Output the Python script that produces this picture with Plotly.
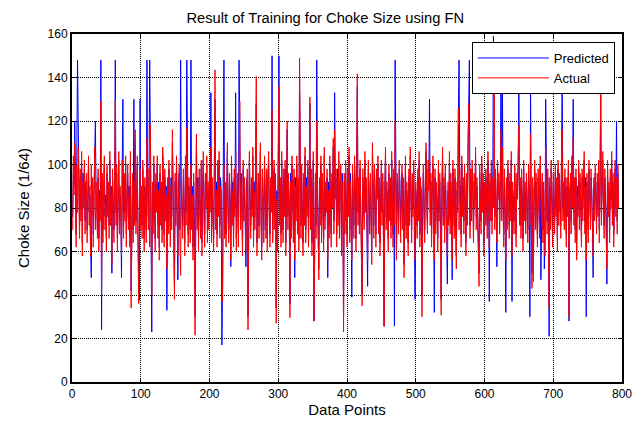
import plotly.graph_objects as go

# Actual choke size (red) (index 1..795)
actual = [
70,104,86,110,96,62,100,78,108,84,66,98,74,106,58,92,80,102,68,88,
96,64,84,104,72,90,58,100,76,94,62,86,108,70,92,80,66,98,60,84,
74,129,39,96,64,88,104,70,82,60,100,76,92,66,106,72,86,54,98,78,
64,94,130,72,100,60,84,106,68,90,76,58,102,80,66,96,74,104,62,88,
100,70,86,62,106,34,78,96,64,92,72,116,68,88,104,60,36,82,98,70,
90,66,102,76,60,94,80,64,112,86,70,98,62,118,76,40,92,68,104,74,
60,96,78,104,66,88,56,100,72,92,64,108,80,62,98,74,86,52,94,68,
102,76,62,90,70,116,84,60,38,96,72,104,66,58,88,100,64,49,92,74,
66,98,80,58,104,72,117,88,62,94,76,64,100,70,86,56,96,68,21.5,84,
114,70,90,60,98,78,66,102,58,86,106,74,62,96,80,104,64,92,70,100,
78,108,64,94,72,60,98,143.5,70,88,62,102,76,106,66,90,84,58,37,80,
100,66,92,62,86,110,74,64,96,80,56,104,72,88,62,98,76,106,60,84,
96,62,86,129,70,92,78,58,102,74,94,64,60,88,98,24,72,106,82,66,
94,76,108,62,88,70,100,140.5,58,84,96,66,90,110,72,56,98,80,64,104,
82,66,98,60,92,106,74,62,94,78,125,64,86,102,70,96,27,84,60,104,
136,72,94,62,106,80,64,98,76,102,58,88,120,70,96,78,29.6,92,66,104,
80,64,98,56,90,74,104,68,94,60,149,82,66,100,78,58,96,72,108,64,
90,76,102,62,86,131,70,98,58,84,106,28,74,96,66,120,86,62,47,94,
72,104,64,96,80,60,108,70,92,78,98,56,88,66,104,74,62,96,80,112,
68,116,84,98,62,94,72,106,66,88,100,58,92,76,23,96,68,102,80,62,
98,76,108,64,92,72,56,100,80,66,104,86,60,96,141.7,72,94,68,102,78,
62,35,98,82,70,106,78,94,64,56,102,80,68,96,74,54,110,88,66,100,
78,62,98,84,104,68,94,58,82,102,72,96,64,25.6,86,108,70,92,78,60,
100,74,94,66,106,80,62,98,72,120,84,56,96,78,68,102,88,64,82,100,
70,94,48,80,104,66,92,78,58,98,72,108,84,64,96,76,102,68,56,92,
80,66,98,74,106,62,94,84,30,72,100,78,64,96,110,80,68,102,88,108,
72,96,62,86,104,76,56,98,68,92,80,60,102,74,96,66,30.7,86,108,72,
94,64,100,80,60,58,92,72,106,68,96,78,56,102,84,66,98,74,52,92,
78,126,70,98,84,62,104,76,94,68,100,80,58,96,72,110,128,84,66,98,
74,102,88,64,96,80,108,70,94,76,62,44,100,84,68,104,78,96,58,92,
72,98,80,66,106,84,62,96,74,102,68,94,80,139,70,98,76,64,102,84,
96,68,88,116,74,108,80,62,98,76,56,94,70,102,84,66,96,74,106,58,
92,80,68,100,76,62,96,84,104,118,72,94,66,98,80,60,102,74,92,68,
96,78,64,100,84,72,114,68,43,94,46,80,102,70,96,76,62,98,84,66,
104,78,72,96,64,92,76,58,108,84,68,98,74,34,94,70,102,80,62,96,
82,68,100,76,94,60,102,72,96,80,66,106,116,74,92,70,98,78,62,94,
76,102,30,84,96,68,104,80,112,72,94,64,98,56,86,76,102,70,96,80,
62,98,74,92,106,68,90,56,96,78,64,102,80,70,98,84,66,58,94,74,
100,80,68,96,76,102,64,88,136,72,94,106,78,66,98,84,70,52,102,76,
92,64,98,80,106,72,96,62,86,102,76,94,68,100,80,
]

# Predicted choke size (blue) (index 1..795)
predicted = [
76,100,90,120,92,68,104,148,120,88,72,94,80,100,64,96,84,98,74,92,
92,70,88,100,78,86,64,48,82,90,68,90,104,120,88,84,70,94,66,88,
80,148,24,92,70,92,100,76,86,66,96,80,88,72,102,78,90,50,94,82,
70,90,148,78,96,66,88,102,74,86,80,48,98,130,72,92,78,100,68,92,
96,76,90,68,102,42,84,92,70,130,78,110,74,92,100,66,46,37.5,130,76,
86,72,98,80,66,90,84,70,148,90,76,94,148,112,80,23,88,74,100,78,
66,92,82,100,72,92,62,96,78,88,70,104,84,68,94,80,90,33,90,74,
98,80,68,94,76,110,88,66,46,92,78,100,72,47,92,96,70,148,88,80,
72,94,84,64,100,78,148,92,68,90,80,70,148,76,90,62,92,74,30,88,
110,76,94,66,94,82,72,98,64,90,102,80,68,92,84,100,70,88,76,96,
84,133,70,90,78,66,94,130,76,92,68,98,80,102,72,94,88,17,44,86,
148,72,88,68,90,106,80,70,92,84,53,100,78,92,68,94,80,133,66,88,
92,68,148,120,76,96,82,64,98,80,90,70,53,92,94,30,78,102,86,72,
90,80,104,68,92,76,96,128,64,88,92,72,94,106,78,62,94,84,70,100,
86,72,94,66,96,102,80,68,90,82,150,70,90,98,76,92,34,88,66,100,
150,78,90,68,102,84,70,94,80,98,64,92,116,76,92,82,36,96,72,100,
84,70,94,48,94,80,100,74,90,66,140,86,72,96,82,64,92,78,104,70,
94,80,98,68,90,128,76,94,64,88,102,28,80,92,72,148,90,68,52,90,
78,100,70,92,84,66,104,76,88,82,94,48,92,72,100,80,68,92,84,108,
74,133,88,94,68,98,78,102,72,92,96,64,96,80,30,92,74,98,84,68,
94,80,104,70,96,78,39,96,84,72,100,90,66,92,136,78,90,74,98,82,
68,40,94,86,76,102,82,90,70,44,98,84,74,92,80,60,106,92,72,96,
82,68,94,88,100,74,90,64,86,98,78,92,70,25.6,90,104,76,88,82,66,
96,80,90,72,102,84,68,94,25.7,148,88,62,92,82,74,98,92,70,86,96,
76,90,54,84,100,72,88,82,64,94,78,104,88,70,92,80,98,74,38,88,
84,72,94,78,102,68,90,88,40,78,96,82,70,92,106,84,74,98,92,130,
78,92,68,90,100,80,32,94,74,88,84,66,98,78,92,72,38,90,104,76,
90,70,96,84,66,45,88,76,102,74,92,82,47,98,88,72,94,78,58,88,
82,122,148,94,88,68,100,80,90,74,96,84,64,92,78,106,122,148,72,94,
80,98,92,70,92,84,104,76,90,80,68,50,96,88,74,100,82,92,64,88,
78,94,84,72,102,88,37,92,80,98,74,90,159,134,76,94,80,53,98,88,
92,74,92,142,80,142,84,68,94,80,32,90,76,98,88,72,92,78,102,37,
88,84,74,96,80,68,92,88,100,137,78,90,72,94,84,66,98,78,88,74,
92,82,70,96,88,30,137,74,50,90,52,84,98,76,92,80,68,94,88,72,
100,47,78,92,70,88,52,64,130,88,74,94,80,21,90,76,98,84,68,92,
86,74,96,80,90,66,98,78,92,84,72,102,139,80,88,76,94,82,68,90,
82,98,28,88,92,74,100,84,130,78,90,70,94,58,90,80,98,76,92,84,
68,94,80,88,102,74,94,30,92,82,70,98,84,76,94,88,72,48,90,80,
96,84,74,92,82,98,70,92,132,78,90,102,82,72,94,88,76,45,98,80,
88,70,94,84,102,78,92,68,90,98,80,120,74,96,84,
]

x_idx = list(range(1, len(actual) + 1))
x_ticks = [0, 100, 200, 300, 400, 500, 600, 700, 800]
y_ticks = [0, 20, 40, 60, 80, 100, 120, 140, 160]

fig = go.Figure()
fig.add_trace(go.Scatter(x=list(range(1, len(predicted) + 1)), y=predicted, mode="lines",
                         name="Predicted", line=dict(color="#0000FF", width=1)))
fig.add_trace(go.Scatter(x=x_idx, y=actual, mode="lines", name="Actual",
                         line=dict(color="#FF0000", width=1)))

axis_common = dict(
    showline=True, linecolor="black", linewidth=2, mirror="allticks",
    ticks="inside", ticklen=4, tickcolor="black",
    showgrid=True, gridcolor="black", gridwidth=1, griddash="1px,1px",
    zeroline=False, tickfont=dict(size=12, color="black"),
)

fig.update_layout(
    width=644, height=428,
    margin=dict(l=72, r=20, t=34, b=44),
    paper_bgcolor="white", plot_bgcolor="white",
    font=dict(family="Liberation Sans, Arial, sans-serif", color="black"),
    title=dict(text="Result of Training for Choke Size using FN", x=0.505, xanchor="center",
               y=0.958, yanchor="middle", font=dict(size=14.7, color="black")),
    xaxis=dict(range=[0, 800], tickvals=x_ticks,
               title=dict(text="Data Points", font=dict(size=15), standoff=4), **axis_common),
    yaxis=dict(range=[0, 160], tickvals=y_ticks,
               title=dict(text="Choke Size (1/64)", font=dict(size=15), standoff=14), **axis_common),
    showlegend=True,
    legend=dict(x=0.987, y=0.977, xanchor="right", yanchor="top",
                bgcolor="white", bordercolor="black", borderwidth=1,
                font=dict(size=13), itemwidth=71, tracegroupgap=0),
)

fig.write_html("out.html")
